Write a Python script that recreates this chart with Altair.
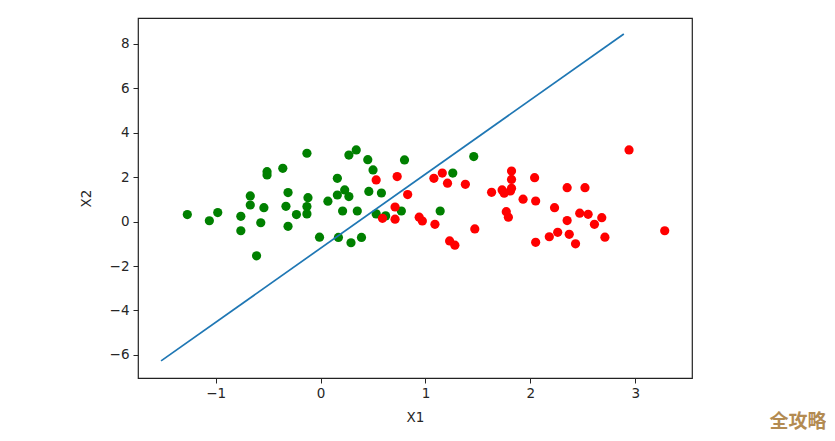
import altair as alt
import pandas as pd

# Green class points
green_x = [-0.13, -0.51, -0.51, -0.36, -0.67, -0.67, -0.31, -0.12, -0.13, -0.13,
           0.07, -1.27, -1.06, -0.98, -0.76, -0.54, -0.33, -0.23, -0.57, -0.76,
           -0.31, -0.01, -0.61, 0.27, 0.34, 0.45, 0.50, 0.80, 1.46, 0.16,
           0.23, 0.16, 0.27, 0.46, 0.58, 0.21, 0.35, 0.53, 0.62, 0.77,
           1.26, 1.14, 0.17, 0.39, 0.29]
green_y = [3.08, 2.25, 2.10, 2.40, 1.16, 0.75, 1.31, 1.08, 0.68, 0.35,
           0.92, 0.32, 0.04, 0.41, 0.24, 0.63, 0.69, 0.32, -0.05, -0.41,
           -0.21, -0.70, -1.54, 3.00, 3.23, 2.79, 2.33, 2.78, 2.93, 1.95,
           1.43, 1.20, 1.13, 1.36, 1.29, 0.48, 0.48, 0.35, 0.26, 0.48,
           2.19, 0.48, -0.71, -0.71, -0.95]

# Red class points
red_x = [0.53, 0.73, 0.83, 0.71, 0.71, 0.59, 1.08, 1.16, 1.21, 1.38,
         0.94, 0.97, 1.09, 1.23, 1.28, 1.47, 1.63, 1.73, 1.81, 1.75,
         1.82, 1.82, 1.82, 1.77, 1.79, 2.94, 2.04, 1.93, 2.05, 2.35,
         2.52, 2.23, 2.35, 2.47, 2.55, 2.68, 2.61, 2.18, 2.26, 2.37,
         2.05, 2.43, 2.71, 3.28]
red_y = [1.88, 2.03, 1.22, 0.66, 0.11, 0.15, 1.95, 2.19, 1.73, 1.68,
         0.20, 0.03, -0.12, -0.87, -1.06, -0.33, 1.32, 1.43, 1.38, 1.28,
         2.28, 1.90, 1.50, 0.45, 0.20, 3.23, 1.98, 1.01, 0.93, 1.53,
         1.53, 0.63, 0.05, 0.38, 0.33, 0.18, -0.12, -0.68, -0.48, -0.57,
         -0.93, -1.00, -0.70, -0.41]

# Decision boundary line
line_x = [-1.52, 2.89]
line_y = [-6.27, 8.45]

x_ticks = [-1, 0, 1, 2, 3]
y_ticks = [-6, -4, -2, 0, 2, 4, 6, 8]

pts = pd.DataFrame({
    "X1": green_x + red_x,
    "X2": green_y + red_y,
    "cls": ["g"] * len(green_x) + ["r"] * len(red_x),
})
line_df = pd.DataFrame({"X1": line_x, "X2": line_y})

FONT = "DejaVu Sans"
TXT = "#262626"

xscale = alt.Scale(domain=[-1.74, 3.54], nice=False, zero=False)
yscale = alt.Scale(domain=[-7.04, 9.17], nice=False, zero=False)

xaxis = alt.Axis(values=x_ticks, format="d", grid=False, domain=False, tickSize=5,
                 tickColor=TXT, labelColor=TXT, labelFont=FONT, labelFontSize=13.5,
                 labelPadding=3, title="X1", titleFont=FONT, titleFontSize=13.5,
                 titleFontWeight="normal", titleColor=TXT, titlePadding=11,
                 labelFlush=False)
yaxis = alt.Axis(values=y_ticks, format="d", grid=False, domain=False, tickSize=5,
                 tickColor=TXT, labelColor=TXT, labelFont=FONT, labelFontSize=13.5,
                 labelPadding=4, title="X2", titleFont=FONT, titleFontSize=13.5,
                 titleFontWeight="normal", titleColor=TXT, titlePadding=16,
                 labelFlush=False)

points = alt.Chart(pts).mark_circle(size=85, opacity=1).encode(
    x=alt.X("X1:Q", scale=xscale, axis=xaxis),
    y=alt.Y("X2:Q", scale=yscale, axis=yaxis),
    color=alt.Color("cls:N", scale=alt.Scale(domain=["g", "r"], range=["#008000", "#ff0000"]), legend=None),
)

line = alt.Chart(line_df).mark_line(color="#1f77b4", strokeWidth=1.7).encode(
    x=alt.X("X1:Q", scale=xscale),
    y=alt.Y("X2:Q", scale=yscale),
)

wm = alt.Chart(pd.DataFrame({"t": ["全攻略"]})).mark_text(
    font="Noto Sans CJK SC", fontSize=19, fontWeight="bold", color="#b38b52",
    align="center", baseline="middle"
).encode(text="t:N", x=alt.value(660), y=alt.value(404))

chart = alt.layer(points, line, wm).properties(
    width=554, height=360,
    autosize=alt.AutoSizeParams(type="none"),
    padding={"left": 130, "top": 10, "right": 134, "bottom": 54},
).configure(
    background="white",
    view=alt.ViewConfig(stroke="#222222", strokeWidth=1.2),
)

chart.save("out.html", embed_options={"renderer": "svg", "actions": False})
